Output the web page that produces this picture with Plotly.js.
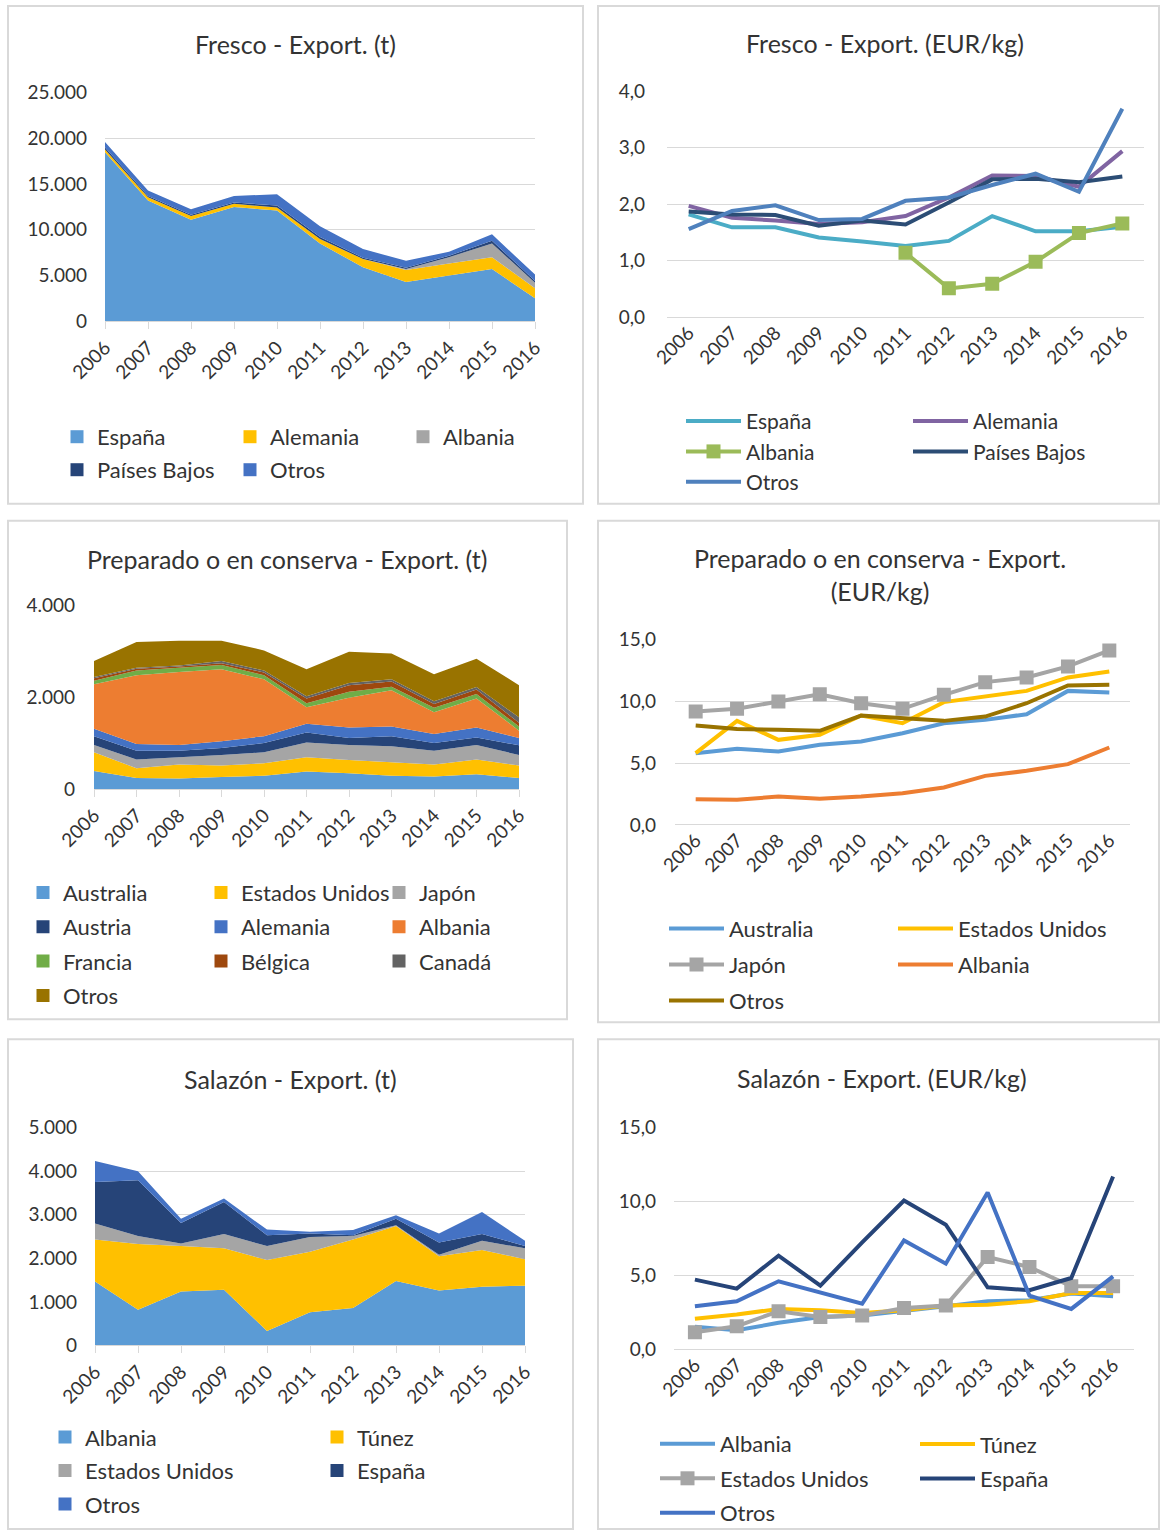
<!DOCTYPE html>
<html>
<head>
<meta charset="utf-8">
<script src="https://cdn.plot.ly/plotly-3.0.1.min.js"></script>
<style>
  html, body { margin: 0; padding: 0; background: #fff; }
  #chart { width: 1160px; height: 1534px; }
</style>
</head>
<body>
<div id="chart"></div>
<script>
// years on every x axis
var years = [2006, 2007, 2008, 2009, 2010, 2011, 2012, 2013, 2014, 2015, 2016];

// Fresco - Export. (t)
var frescoT_espana = [18500, 13200, 11100, 12500, 12100, 8500, 5900, 4300, 5000, 5700, 2500];
var frescoT_alemania = [300, 350, 400, 350, 350, 500, 900, 1300, 1300, 1300, 1100];
var frescoT_albania = [0, 0, 0, 0, 0, 0, 0, 100, 700, 1500, 600];
var frescoT_paisesBajos = [200, 150, 150, 150, 200, 200, 150, 150, 150, 300, 200];
var frescoT_otros = [600, 600, 600, 700, 1250, 1200, 950, 750, 450, 700, 700];

// Fresco - Export. (EUR/kg)
var frescoP_espana = [1.82, 1.59, 1.59, 1.41, 1.34, 1.26, 1.35, 1.79, 1.52, 1.52, 1.60];
var frescoP_alemania = [1.97, 1.76, 1.71, 1.65, 1.68, 1.79, 2.12, 2.51, 2.50, 2.31, 2.94];
var frescoP_albania = [null, null, null, null, null, 1.14, 0.51, 0.59, 0.98, 1.49, 1.66];
var frescoP_paisesBajos = [1.87, 1.82, 1.81, 1.62, 1.71, 1.64, 2.03, 2.44, 2.45, 2.39, 2.49];
var frescoP_otros = [1.56, 1.88, 1.98, 1.72, 1.74, 2.06, 2.12, 2.34, 2.54, 2.22, 3.69];

// Preparado o en conserva - Export. (t)
var prepT_australia = [390, 240, 230, 260, 290, 380, 340, 290, 270, 320, 240];
var prepT_eeuu = [410, 210, 300, 250, 270, 310, 290, 290, 260, 320, 270];
var prepT_japon = [160, 190, 160, 230, 240, 320, 330, 350, 300, 320, 230];
var prepT_austria = [190, 190, 140, 150, 200, 220, 150, 220, 170, 160, 210];
var prepT_alemania = [160, 150, 130, 150, 150, 190, 230, 210, 200, 220, 160];
var prepT_albania = [970, 1500, 1590, 1570, 1240, 360, 650, 790, 470, 630, 160];
var prepT_francia = [80, 100, 90, 90, 90, 90, 130, 80, 100, 100, 90];
var prepT_belgica = [50, 40, 30, 40, 60, 100, 140, 110, 80, 100, 80];
var prepT_canada = [30, 20, 20, 50, 40, 50, 50, 50, 60, 50, 120];
var prepT_otros = [350, 560, 540, 440, 440, 590, 680, 560, 590, 620, 700];

// Preparado o en conserva - Export. (EUR/kg)
var prepP_australia = [5.81, 6.16, 5.95, 6.49, 6.76, 7.43, 8.24, 8.51, 8.97, 10.86, 10.73];
var prepP_eeuu = [5.81, 8.43, 6.89, 7.30, 8.86, 8.24, 9.95, 10.41, 10.86, 11.95, 12.43];
var prepP_japon = [9.19, 9.41, 10.0, 10.59, 9.86, 9.41, 10.54, 11.57, 11.95, 12.84, 14.14];
var prepP_albania = [2.08, 2.03, 2.30, 2.11, 2.30, 2.57, 3.03, 3.97, 4.38, 4.92, 6.27];
var prepP_otros = [8.05, 7.78, 7.70, 7.62, 8.86, 8.65, 8.43, 8.78, 9.86, 11.30, 11.35];

// Salazón - Export. (t)
var salT_albania = [1470, 820, 1240, 1280, 330, 760, 860, 1480, 1260, 1350, 1370];
var salT_tunez = [960, 1510, 1040, 950, 1630, 1390, 1570, 1260, 790, 840, 610];
var salT_eeuu = [370, 180, 60, 330, 320, 340, 80, 20, 30, 210, 250];
var salT_espana = [950, 1280, 470, 730, 250, 80, 20, 150, 280, 160, 50];
var salT_otros = [480, 210, 100, 80, 130, 40, 120, 80, 210, 500, 120];

// Salazón - Export. (EUR/kg)
var salP_albania = [1.53, 1.30, 1.80, 2.20, 2.29, 2.58, 2.92, 3.26, 3.33, 3.78, 3.60];
var salP_tunez = [2.07, 2.36, 2.74, 2.65, 2.47, 2.65, 2.97, 3.03, 3.26, 3.82, 3.82];
var salP_eeuu = [1.17, 1.57, 2.58, 2.20, 2.29, 2.81, 2.97, 6.25, 5.57, 4.27, 4.27];
var salP_espana = [4.72, 4.11, 6.34, 4.31, 7.24, 10.07, 8.43, 4.20, 4.00, 4.83, 11.69];
var salP_otros = [2.92, 3.26, 4.61, 3.82, 3.10, 7.37, 5.80, 10.61, 3.64, 2.74, 4.94];

var W = 1160, H = 1534;
var FONT = 'Lato, "Open Sans", sans-serif';
var TXT = '#333333';
var GRID = '#D9D9D9';

function px(x) { return x / W; }
function py(y) { return 1 - y / H; }

var traces = [];
var groupId = 0;

function suffix(n) { return n > 1 ? String(n) : ''; }

// stacked area series plus a square legend marker
function addArea(n, name, values, color, legendName) {
  traces.push({
    type: 'scatter', x: years, y: values, name: name,
    stackgroup: 'stack' + n, mode: 'none', fillcolor: color,
    line: { width: 0 }, showlegend: false,
    xaxis: 'x' + suffix(n), yaxis: 'y' + suffix(n)
  });
  groupId++;
  traces.push({
    type: 'scatter', x: [null], y: [null], name: name, mode: 'markers',
    marker: { symbol: 'square', size: 13, color: color },
    legend: legendName, legendgroup: 'g' + groupId,
    xaxis: 'x' + suffix(n), yaxis: 'y' + suffix(n)
  });
}

function addLine(n, name, values, color, legendName, withMarker) {
  groupId++;
  traces.push({
    type: 'scatter', x: years, y: values, name: name,
    mode: withMarker ? 'lines+markers' : 'lines',
    line: { color: color, width: 4 },
    marker: { symbol: 'square', size: 14, color: color },
    legend: legendName, legendgroup: 'g' + groupId,
    xaxis: 'x' + suffix(n), yaxis: 'y' + suffix(n)
  });
}

// panel 1
addArea(1, 'España', frescoT_espana, '#5B9BD5', 'legend');
addArea(1, 'Alemania', frescoT_alemania, '#FFC000', 'legend2');
addArea(1, 'Albania', frescoT_albania, '#A5A5A5', 'legend3');
addArea(1, 'Países Bajos', frescoT_paisesBajos, '#264478', 'legend');
addArea(1, 'Otros', frescoT_otros, '#4472C4', 'legend2');

// panel 2
addLine(2, 'España', frescoP_espana, '#4BACC6', 'legend4', false);
addLine(2, 'Alemania', frescoP_alemania, '#8064A2', 'legend5', false);
addLine(2, 'Albania', frescoP_albania, '#9BBB59', 'legend4', true);
addLine(2, 'Países Bajos', frescoP_paisesBajos, '#2C4D75', 'legend5', false);
addLine(2, 'Otros', frescoP_otros, '#4F81BD', 'legend4', false);

// panel 3
addArea(3, 'Australia', prepT_australia, '#5B9BD5', 'legend6');
addArea(3, 'Estados Unidos', prepT_eeuu, '#FFC000', 'legend7');
addArea(3, 'Japón', prepT_japon, '#A5A5A5', 'legend8');
addArea(3, 'Austria', prepT_austria, '#264478', 'legend6');
addArea(3, 'Alemania', prepT_alemania, '#4472C4', 'legend7');
addArea(3, 'Albania', prepT_albania, '#ED7D31', 'legend8');
addArea(3, 'Francia', prepT_francia, '#70AD47', 'legend6');
addArea(3, 'Bélgica', prepT_belgica, '#9E480E', 'legend7');
addArea(3, 'Canadá', prepT_canada, '#636363', 'legend8');
addArea(3, 'Otros', prepT_otros, '#997300', 'legend6');

// panel 4
addLine(4, 'Australia', prepP_australia, '#5B9BD5', 'legend9', false);
addLine(4, 'Estados Unidos', prepP_eeuu, '#FFC000', 'legend10', false);
addLine(4, 'Japón', prepP_japon, '#A5A5A5', 'legend9', true);
addLine(4, 'Albania', prepP_albania, '#ED7D31', 'legend10', false);
addLine(4, 'Otros', prepP_otros, '#997300', 'legend9', false);

// panel 5
addArea(5, 'Albania', salT_albania, '#5B9BD5', 'legend11');
addArea(5, 'Túnez', salT_tunez, '#FFC000', 'legend12');
addArea(5, 'Estados Unidos', salT_eeuu, '#A5A5A5', 'legend11');
addArea(5, 'España', salT_espana, '#264478', 'legend12');
addArea(5, 'Otros', salT_otros, '#4472C4', 'legend11');

// panel 6
addLine(6, 'Albania', salP_albania, '#5B9BD5', 'legend13', false);
addLine(6, 'Túnez', salP_tunez, '#FFC000', 'legend14', false);
addLine(6, 'Estados Unidos', salP_eeuu, '#A5A5A5', 'legend13', true);
addLine(6, 'España', salP_espana, '#264478', 'legend14', false);
addLine(6, 'Otros', salP_otros, '#4472C4', 'legend13', false);

function xAxis(left, right, isArea, yName) {
  return {
    domain: [px(left), px(right)],
    range: isArea ? [2006, 2016] : [2005.5, 2016.5],
    anchor: yName,
    tickvals: years, tickangle: -45,
    tickfont: { family: FONT, size: 19, color: TXT },
    showgrid: false, zeroline: false,
    showline: isArea, linecolor: GRID, linewidth: 1,
    ticks: isArea ? 'outside' : '', ticklen: 7, tickcolor: GRID,
    fixedrange: true
  };
}

function yAxis(bottom, top, max, dtick, fmt, xName, standoff) {
  return {
    domain: [py(bottom), py(top)],
    range: [0, max], dtick: dtick, tickformat: fmt,
    anchor: xName,
    tickfont: { family: FONT, size: 19, color: TXT },
    showgrid: true, gridcolor: GRID, gridwidth: 1,
    zeroline: true, zerolinecolor: GRID, zerolinewidth: 1,
    showline: false, ticks: '', ticklabelstandoff: standoff,
    fixedrange: true
  };
}

function legendBox(x, y, gap, itemwidth, size) {
  return {
    x: px(x), y: py(y), xanchor: 'left', yanchor: 'top',
    orientation: 'v', bgcolor: 'rgba(0,0,0,0)', borderwidth: 0,
    font: { family: FONT, size: size, color: TXT },
    tracegroupgap: gap, itemwidth: itemwidth, itemclick: false
  };
}

function title(text, x, y) {
  return {
    text: text, x: px(x), y: py(y), xref: 'paper', yref: 'paper',
    xanchor: 'center', yanchor: 'middle', showarrow: false,
    font: { family: FONT, size: 25, color: TXT }
  };
}

function frame(x0, y0, x1, y1) {
  return {
    type: 'rect', xref: 'paper', yref: 'paper',
    x0: px(x0), x1: px(x1), y0: py(y1), y1: py(y0),
    line: { color: GRID, width: 2 }, fillcolor: 'rgba(0,0,0,0)', layer: 'below'
  };
}

var layout = {
  width: W, height: H,
  margin: { l: 0, r: 0, t: 0, b: 0 },
  paper_bgcolor: '#fff', plot_bgcolor: 'rgba(0,0,0,0)',
  separators: ',.',
  hovermode: false,
  xaxis: xAxis(105, 535, true, 'y'),
  yaxis: yAxis(322, 93, 25000, 5000, ',.0f', 'x', 17),
  xaxis2: xAxis(667, 1144, false, 'y2'),
  yaxis2: yAxis(318, 91.5, 4, 1, '.1f', 'x2', 21),
  xaxis3: xAxis(94, 519, true, 'y3'),
  yaxis3: yAxis(791, 607, 4000, 2000, ',.0f', 'x3', 18),
  xaxis4: xAxis(675, 1130, false, 'y4'),
  yaxis4: yAxis(827, 641.5, 15, 5, '.1f', 'x4', 18),
  xaxis5: xAxis(95, 525, true, 'y5'),
  yaxis5: yAxis(1349, 1130.5, 5000, 1000, ',.0f', 'x5', 17),
  xaxis6: xAxis(674, 1134, false, 'y6'),
  yaxis6: yAxis(1353, 1130.5, 15, 5, '.1f', 'x6', 17),
  legend: legendBox(57, 417, 1.4, 30, 22),
  legend2: legendBox(230, 417, 1.4, 30, 22),
  legend3: legendBox(403, 417, 1.4, 30, 22),
  legend4: legendBox(681, 402, 0, 55, 21),
  legend5: legendBox(908, 402, 0, 55, 21),
  legend6: legendBox(23, 874, 2.7, 30, 22),
  legend7: legendBox(201, 874, 2.7, 30, 22),
  legend8: legendBox(379, 874, 2.7, 30, 22),
  legend9: legendBox(664, 910, 4.4, 55, 22),
  legend10: legendBox(893, 910, 4.4, 55, 22),
  legend11: legendBox(45, 1420, 1.9, 30, 22),
  legend12: legendBox(317, 1420, 1.9, 30, 22),
  legend13: legendBox(655, 1427, 2.9, 55, 22),
  legend14: legendBox(915, 1427, 2.9, 55, 22),
  annotations: [
    title('Fresco - Export. (t)', 295, 44),
    title('Fresco - Export. (EUR/kg)', 885, 43),
    title('Preparado o en conserva - Export. (t)', 287, 560),
    title('Preparado o en conserva - Export.<br>(EUR/kg)', 880, 576),
    title('Salazón - Export. (t)', 290, 1082),
    title('Salazón - Export. (EUR/kg)', 882, 1081)
  ],
  shapes: [
    frame(8, 6, 583, 505),
    frame(598, 6, 1159, 505),
    frame(8, 522, 567, 1022),
    frame(598, 522, 1159, 1025),
    frame(8, 1042, 573, 1533),
    frame(598, 1042, 1159, 1533)
  ]
};

Plotly.newPlot('chart', traces, layout, { staticPlot: true, displayModeBar: false });
</script>
</body>
</html>
